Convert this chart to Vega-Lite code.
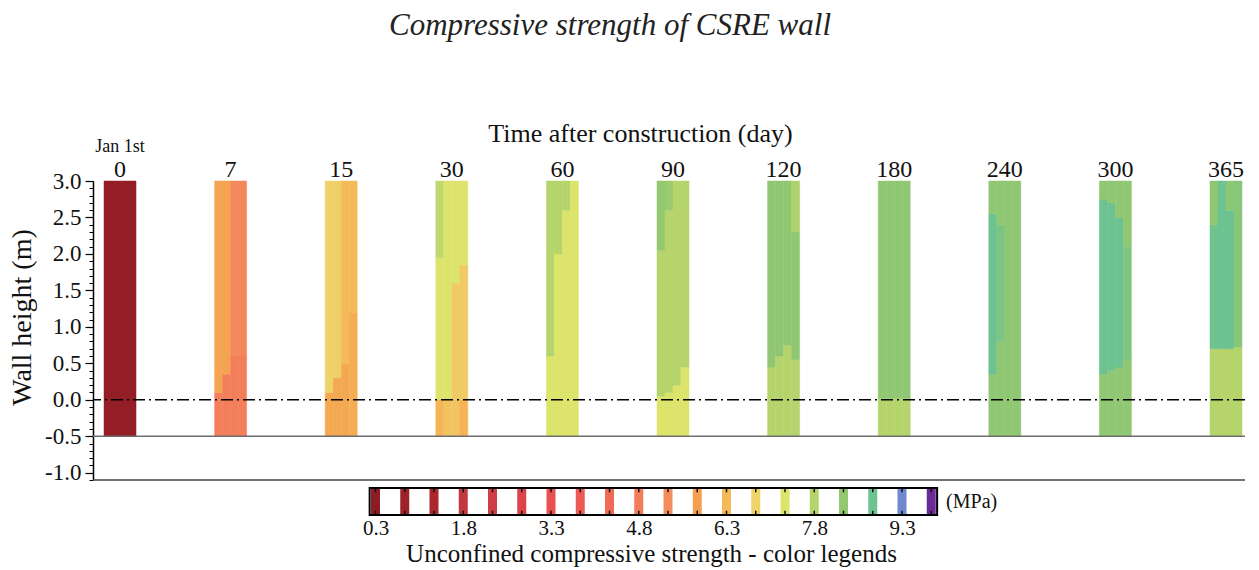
{
  "$schema": "https://vega.github.io/schema/vega-lite/v6.json",
  "autosize": {"type": "none"},
  "padding": {"left": 93, "top": 181, "right": 1166, "bottom": 389},
  "background": "white",
  "bounds": "flush",
  "spacing": 8,
  "config": {
    "view": {"stroke": null},
    "font": "Liberation Serif",
    "axis": {"labelFont": "Liberation Serif", "titleFont": "Liberation Serif", "grid": false, "labelColor": "#111", "titleColor": "#111"},
    "title": {"font": "Liberation Serif"},
    "text": {"font": "Liberation Serif"}
  },
  "datasets": {
    "cells": [
      {"day": "0", "strip": "a", "bottom": -0.5, "top": 3.0, "mpa": 0.5},
      {"day": "0", "strip": "b", "bottom": -0.5, "top": 3.0, "mpa": 0.5},
      {"day": "0", "strip": "c", "bottom": -0.5, "top": 3.0, "mpa": 0.5},
      {"day": "0", "strip": "d", "bottom": -0.5, "top": 3.0, "mpa": 0.5},

      {"day": "7", "strip": "a", "bottom": -0.5, "top": 0.1, "mpa": 4.9},
      {"day": "7", "strip": "a", "bottom": 0.1, "top": 3.0, "mpa": 5.9},
      {"day": "7", "strip": "b", "bottom": -0.5, "top": 0.35, "mpa": 4.9},
      {"day": "7", "strip": "b", "bottom": 0.35, "top": 3.0, "mpa": 5.85},
      {"day": "7", "strip": "c", "bottom": -0.5, "top": 0.6, "mpa": 4.9},
      {"day": "7", "strip": "c", "bottom": 0.6, "top": 3.0, "mpa": 5.2},
      {"day": "7", "strip": "d", "bottom": -0.5, "top": 0.6, "mpa": 4.9},
      {"day": "7", "strip": "d", "bottom": 0.6, "top": 3.0, "mpa": 5.15},

      {"day": "15", "strip": "a", "bottom": -0.5, "top": 0.1, "mpa": 5.95},
      {"day": "15", "strip": "a", "bottom": 0.1, "top": 3.0, "mpa": 6.8},
      {"day": "15", "strip": "b", "bottom": -0.5, "top": 0.3, "mpa": 5.95},
      {"day": "15", "strip": "b", "bottom": 0.3, "top": 3.0, "mpa": 6.75},
      {"day": "15", "strip": "c", "bottom": -0.5, "top": 0.5, "mpa": 5.95},
      {"day": "15", "strip": "c", "bottom": 0.5, "top": 3.0, "mpa": 6.3},
      {"day": "15", "strip": "d", "bottom": -0.5, "top": 1.2, "mpa": 6.05},
      {"day": "15", "strip": "d", "bottom": 1.2, "top": 3.0, "mpa": 6.3},

      {"day": "30", "strip": "a", "bottom": -0.5, "top": 0.0, "mpa": 6.2},
      {"day": "30", "strip": "a", "bottom": 0.0, "top": 1.95, "mpa": 7.3},
      {"day": "30", "strip": "a", "bottom": 1.95, "top": 3.0, "mpa": 7.65},
      {"day": "30", "strip": "b", "bottom": -0.5, "top": 0.0, "mpa": 6.5},
      {"day": "30", "strip": "b", "bottom": 0.0, "top": 3.0, "mpa": 7.3},
      {"day": "30", "strip": "c", "bottom": -0.5, "top": 0.0, "mpa": 6.5},
      {"day": "30", "strip": "c", "bottom": 0.0, "top": 1.6, "mpa": 6.65},
      {"day": "30", "strip": "c", "bottom": 1.6, "top": 3.0, "mpa": 7.3},
      {"day": "30", "strip": "d", "bottom": -0.5, "top": 0.0, "mpa": 6.2},
      {"day": "30", "strip": "d", "bottom": 0.0, "top": 1.85, "mpa": 6.65},
      {"day": "30", "strip": "d", "bottom": 1.85, "top": 3.0, "mpa": 7.25},

      {"day": "60", "strip": "a", "bottom": -0.5, "top": 0.6, "mpa": 7.3},
      {"day": "60", "strip": "a", "bottom": 0.6, "top": 3.0, "mpa": 7.8},
      {"day": "60", "strip": "b", "bottom": -0.5, "top": 2.0, "mpa": 7.3},
      {"day": "60", "strip": "b", "bottom": 2.0, "top": 3.0, "mpa": 7.8},
      {"day": "60", "strip": "c", "bottom": -0.5, "top": 2.6, "mpa": 7.3},
      {"day": "60", "strip": "c", "bottom": 2.6, "top": 3.0, "mpa": 7.8},
      {"day": "60", "strip": "d", "bottom": -0.5, "top": 3.0, "mpa": 7.3},

      {"day": "90", "strip": "a", "bottom": -0.5, "top": 0.05, "mpa": 7.3},
      {"day": "90", "strip": "a", "bottom": 0.05, "top": 2.05, "mpa": 7.8},
      {"day": "90", "strip": "a", "bottom": 2.05, "top": 3.0, "mpa": 8.3},
      {"day": "90", "strip": "b", "bottom": -0.5, "top": 0.1, "mpa": 7.3},
      {"day": "90", "strip": "b", "bottom": 0.1, "top": 2.6, "mpa": 7.8},
      {"day": "90", "strip": "b", "bottom": 2.6, "top": 3.0, "mpa": 8.2},
      {"day": "90", "strip": "c", "bottom": -0.5, "top": 0.2, "mpa": 7.3},
      {"day": "90", "strip": "c", "bottom": 0.2, "top": 3.0, "mpa": 7.8},
      {"day": "90", "strip": "d", "bottom": -0.5, "top": 0.45, "mpa": 7.3},
      {"day": "90", "strip": "d", "bottom": 0.45, "top": 3.0, "mpa": 7.8},

      {"day": "120", "strip": "a", "bottom": -0.5, "top": 0.45, "mpa": 7.8},
      {"day": "120", "strip": "a", "bottom": 0.45, "top": 3.0, "mpa": 8.35},
      {"day": "120", "strip": "b", "bottom": -0.5, "top": 0.6, "mpa": 7.8},
      {"day": "120", "strip": "b", "bottom": 0.6, "top": 3.0, "mpa": 8.35},
      {"day": "120", "strip": "c", "bottom": -0.5, "top": 0.75, "mpa": 7.8},
      {"day": "120", "strip": "c", "bottom": 0.75, "top": 3.0, "mpa": 8.35},
      {"day": "120", "strip": "d", "bottom": -0.5, "top": 0.55, "mpa": 7.8},
      {"day": "120", "strip": "d", "bottom": 0.55, "top": 2.3, "mpa": 8.35},
      {"day": "120", "strip": "d", "bottom": 2.3, "top": 3.0, "mpa": 7.9},

      {"day": "180", "strip": "a", "bottom": -0.5, "top": 0.02, "mpa": 7.8},
      {"day": "180", "strip": "a", "bottom": 0.02, "top": 3.0, "mpa": 8.35},
      {"day": "180", "strip": "b", "bottom": -0.5, "top": 0.02, "mpa": 7.8},
      {"day": "180", "strip": "b", "bottom": 0.02, "top": 3.0, "mpa": 8.35},
      {"day": "180", "strip": "c", "bottom": -0.5, "top": 0.02, "mpa": 7.8},
      {"day": "180", "strip": "c", "bottom": 0.02, "top": 3.0, "mpa": 8.35},
      {"day": "180", "strip": "d", "bottom": -0.5, "top": 0.02, "mpa": 7.8},
      {"day": "180", "strip": "d", "bottom": 0.02, "top": 3.0, "mpa": 8.35},

      {"day": "240", "strip": "a", "bottom": -0.5, "top": 0.35, "mpa": 8.35},
      {"day": "240", "strip": "a", "bottom": 0.35, "top": 2.55, "mpa": 8.8},
      {"day": "240", "strip": "a", "bottom": 2.55, "top": 3.0, "mpa": 8.35},
      {"day": "240", "strip": "b", "bottom": -0.5, "top": 0.8, "mpa": 8.35},
      {"day": "240", "strip": "b", "bottom": 0.8, "top": 2.4, "mpa": 8.6},
      {"day": "240", "strip": "b", "bottom": 2.4, "top": 3.0, "mpa": 8.35},
      {"day": "240", "strip": "c", "bottom": -0.5, "top": 3.0, "mpa": 8.35},
      {"day": "240", "strip": "d", "bottom": -0.5, "top": 3.0, "mpa": 8.35},

      {"day": "300", "strip": "a", "bottom": -0.5, "top": 0.35, "mpa": 8.35},
      {"day": "300", "strip": "a", "bottom": 0.35, "top": 2.75, "mpa": 8.8},
      {"day": "300", "strip": "a", "bottom": 2.75, "top": 3.0, "mpa": 8.35},
      {"day": "300", "strip": "b", "bottom": -0.5, "top": 0.4, "mpa": 8.35},
      {"day": "300", "strip": "b", "bottom": 0.4, "top": 2.7, "mpa": 8.8},
      {"day": "300", "strip": "b", "bottom": 2.7, "top": 3.0, "mpa": 8.35},
      {"day": "300", "strip": "c", "bottom": -0.5, "top": 0.45, "mpa": 8.35},
      {"day": "300", "strip": "c", "bottom": 0.45, "top": 2.5, "mpa": 8.8},
      {"day": "300", "strip": "c", "bottom": 2.5, "top": 3.0, "mpa": 8.35},
      {"day": "300", "strip": "d", "bottom": -0.5, "top": 0.55, "mpa": 8.35},
      {"day": "300", "strip": "d", "bottom": 0.55, "top": 2.1, "mpa": 8.55},
      {"day": "300", "strip": "d", "bottom": 2.1, "top": 3.0, "mpa": 8.35},

      {"day": "365", "strip": "a", "bottom": -0.5, "top": 0.7, "mpa": 7.8},
      {"day": "365", "strip": "a", "bottom": 0.7, "top": 2.4, "mpa": 8.75},
      {"day": "365", "strip": "a", "bottom": 2.4, "top": 3.0, "mpa": 8.35},
      {"day": "365", "strip": "b", "bottom": -0.5, "top": 0.7, "mpa": 7.8},
      {"day": "365", "strip": "b", "bottom": 0.7, "top": 3.0, "mpa": 8.8},
      {"day": "365", "strip": "c", "bottom": -0.5, "top": 0.7, "mpa": 7.8},
      {"day": "365", "strip": "c", "bottom": 0.7, "top": 2.6, "mpa": 8.8},
      {"day": "365", "strip": "c", "bottom": 2.6, "top": 3.0, "mpa": 8.4},
      {"day": "365", "strip": "d", "bottom": -0.5, "top": 0.72, "mpa": 7.8},
      {"day": "365", "strip": "d", "bottom": 0.72, "top": 3.0, "mpa": 8.45}
    ],
    "stripes": [
      {"mpa": 0.3}, {"mpa": 0.8}, {"mpa": 1.3}, {"mpa": 1.8}, {"mpa": 2.3},
      {"mpa": 2.8}, {"mpa": 3.3}, {"mpa": 3.8}, {"mpa": 4.3}, {"mpa": 4.8},
      {"mpa": 5.3}, {"mpa": 5.8}, {"mpa": 6.3}, {"mpa": 6.8}, {"mpa": 7.3},
      {"mpa": 7.8}, {"mpa": 8.3}, {"mpa": 8.8}, {"mpa": 9.3}, {"mpa": 9.8}
    ]
  },
  "vconcat": [
    {
      "width": 1152,
      "height": 299,
      "title": {
        "text": "Compressive strength of CSRE wall",
        "font": "Liberation Serif",
        "fontStyle": "italic",
        "fontWeight": "normal",
        "fontSize": 31,
        "color": "#222",
        "anchor": "middle",
        "frame": "group",
        "dx": -59,
        "offset": 78
      },
      "layer": [
        {
          "data": {"name": "cells"},
          "mark": {"type": "bar", "opacity": 1, "strokeWidth": 0.5},
          "encoding": {
            "x": {
              "field": "day", "type": "ordinal", "sort": null,
              "scale": {
                "domain": ["0", "7", "15", "30", "60", "90", "120", "180", "240", "300", "365"],
                "paddingInner": 0.7105, "paddingOuter": 0.0633, "align": 0.786
              },
              "axis": {
                "orient": "top", "domain": false, "ticks": false, "labelAngle": 0,
                "labelFontSize": 24, "labelPadding": 0,
                "title": "Time after construction (day)", "titleFontSize": 26,
                "titleFontWeight": "normal", "titlePadding": 11, "titleX": 547
              }
            },
            "xOffset": {"field": "strip", "type": "nominal", "scale": {"domain": ["a", "b", "c", "d"], "paddingInner": 0, "paddingOuter": 0}},
            "y": {
              "field": "bottom", "type": "quantitative",
              "scale": {"domain": [-1.1, 3.0], "nice": false, "zero": false},
              "axis": {
                "orient": "left",
                "values": [-1, -0.5, 0, 0.5, 1, 1.5, 2, 2.5, 3],
                "format": ".1f",
                "labelExpr": "replace(datum.label, '−', '-')",
                "labelFontSize": 23, "labelPadding": 4,
                "tickSize": 8, "tickColor": "#000", "tickWidth": 1.2,
                "domainColor": "#000", "domainWidth": 1.5,
                "title": "Wall height (m)", "titleFontSize": 28, "titleFontWeight": "normal",
                "titlePadding": 8, "titleY": 136
              }
            },
            "y2": {"field": "top"},
            "color": {
              "field": "mpa", "type": "quantitative", "legend": null,
              "scale": {
                "type": "linear", "interpolate": "rgb",
                "domain": [0.3, 0.8, 1.3, 1.8, 2.3, 2.8, 3.3, 3.8, 4.3, 4.8, 5.3, 5.8, 6.3, 6.8, 7.3, 7.8, 8.3, 8.8, 9.3, 9.8],
                "range": ["#8e1c24", "#9e2229", "#ab262d", "#c03a40", "#cf3d45", "#dc4449", "#e8514f", "#ec5a55", "#f06a58", "#f37c5a", "#f48d5c", "#f5a050", "#f5ba58", "#eed26a", "#dde46c", "#b5d56c", "#94c870", "#6cc290", "#7088d0", "#6a2a98"]
              }
            },
            "stroke": {
              "field": "mpa", "type": "quantitative", "legend": null,
              "scale": {
                "type": "linear", "interpolate": "rgb",
                "domain": [0.3, 0.8, 1.3, 1.8, 2.3, 2.8, 3.3, 3.8, 4.3, 4.8, 5.3, 5.8, 6.3, 6.8, 7.3, 7.8, 8.3, 8.8, 9.3, 9.8],
                "range": ["#8e1c24", "#9e2229", "#ab262d", "#c03a40", "#cf3d45", "#dc4449", "#e8514f", "#ec5a55", "#f06a58", "#f37c5a", "#f48d5c", "#f5a050", "#f5ba58", "#eed26a", "#dde46c", "#b5d56c", "#94c870", "#6cc290", "#7088d0", "#6a2a98"]
              }
            }
          }
        },
        {
          "data": {"values": [{"line": "base"}]},
          "mark": {"type": "rule", "color": "#6e6e6e", "strokeWidth": 1.5},
          "encoding": {
            "y": {
              "datum": -0.5, "type": "quantitative",
              "axis": {
                "orient": "left", "labels": false, "domain": false, "title": null,
                "tickSize": 4, "tickColor": "#000", "tickWidth": 1,
                "values": [-1.1, -1.0, -0.9, -0.8, -0.7, -0.6, -0.5, -0.4, -0.3, -0.2, -0.1, 0, 0.1, 0.2, 0.3, 0.4, 0.5, 0.6, 0.7, 0.8, 0.9, 1.0, 1.1, 1.2, 1.3, 1.4, 1.5, 1.6, 1.7, 1.8, 1.9, 2.0, 2.1, 2.2, 2.3, 2.4, 2.5, 2.6, 2.7, 2.8, 2.9, 3.0]
              }
            }
          }
        },
        {
          "data": {"values": [{"line": "ground"}]},
          "mark": {"type": "rule", "color": "#000", "strokeWidth": 1.6, "strokeDash": [12, 4, 2, 4]},
          "encoding": {"y": {"datum": 0, "type": "quantitative", "axis": null}}
        },
        {
          "data": {"values": [{"line": "bottom"}]},
          "mark": {"type": "rule", "color": "#444", "strokeWidth": 1.5},
          "encoding": {"y": {"datum": -1.1, "type": "quantitative", "axis": null}}
        },
        {
          "data": {"values": [{"day": "0", "note": "Jan 1st"}]},
          "mark": {"type": "text", "fontSize": 18, "dy": -29, "baseline": "alphabetic", "color": "#111"},
          "encoding": {
            "x": {"field": "day", "type": "ordinal", "sort": null},
            "y": {"datum": 3.0, "type": "quantitative", "axis": null},
            "text": {"field": "note"}
          }
        }
      ],
      "resolve": {"axis": {"y": "independent"}}
    },
    {
      "width": 1152,
      "height": 27,
      "data": {"name": "stripes"},
      "layer": [
        {
          "mark": {"type": "tick", "thickness": 9, "size": 27, "opacity": 1},
          "encoding": {
            "x": {
              "field": "mpa", "type": "quantitative",
              "scale": {"domain": [-4.529, 15.163], "nice": false, "zero": false},
              "axis": {
                "values": [0.3, 1.8, 3.3, 4.8, 6.3, 7.8, 9.3], "format": ".1f",
                "domain": false, "ticks": false, "labelFontSize": 21, "labelPadding": 2,
                "title": "Unconfined compressive strength - color legends",
                "titleFontSize": 25, "titleFontWeight": "normal", "titlePadding": 3, "titleX": 558
              }
            },
            "color": {
              "field": "mpa", "type": "quantitative", "legend": null,
              "scale": {
                "type": "linear", "interpolate": "rgb",
                "domain": [0.3, 0.8, 1.3, 1.8, 2.3, 2.8, 3.3, 3.8, 4.3, 4.8, 5.3, 5.8, 6.3, 6.8, 7.3, 7.8, 8.3, 8.8, 9.3, 9.8],
                "range": ["#8e1c24", "#9e2229", "#ab262d", "#c03a40", "#cf3d45", "#dc4449", "#e8514f", "#ec5a55", "#f06a58", "#f37c5a", "#f48d5c", "#f5a050", "#f5ba58", "#eed26a", "#dde46c", "#b5d56c", "#94c870", "#6cc290", "#7088d0", "#6a2a98"]
              }
            }
          }
        },
        {
          "mark": {"type": "rule", "color": "#111", "strokeWidth": 1.5},
          "encoding": {
            "x": {"field": "mpa", "type": "quantitative"},
            "y": {"datum": 1, "type": "quantitative", "scale": {"domain": [0, 1], "nice": false}, "axis": null},
            "y2": {"datum": 0.84}
          }
        },
        {
          "mark": {"type": "rule", "color": "#111", "strokeWidth": 1.5},
          "encoding": {
            "x": {"field": "mpa", "type": "quantitative"},
            "y": {"datum": 0, "type": "quantitative", "axis": null},
            "y2": {"datum": 0.16}
          }
        },
        {
          "data": {"values": [{"box": "frame"}]},
          "mark": {"type": "rect", "fill": null, "fillOpacity": 0, "stroke": "#000", "strokeWidth": 2},
          "encoding": {
            "x": {"datum": 0.2, "type": "quantitative"},
            "x2": {"datum": 9.9},
            "y": {"datum": 0, "type": "quantitative", "axis": null},
            "y2": {"datum": 1}
          }
        },
        {
          "data": {"values": [{"unit": "(MPa)"}]},
          "mark": {"type": "text", "fontSize": 20, "align": "left", "baseline": "middle", "dx": 9, "color": "#111"},
          "encoding": {
            "x": {"datum": 9.9, "type": "quantitative"},
            "y": {"datum": 0.5, "type": "quantitative", "axis": null},
            "text": {"field": "unit"}
          }
        }
      ]
    }
  ]
}
